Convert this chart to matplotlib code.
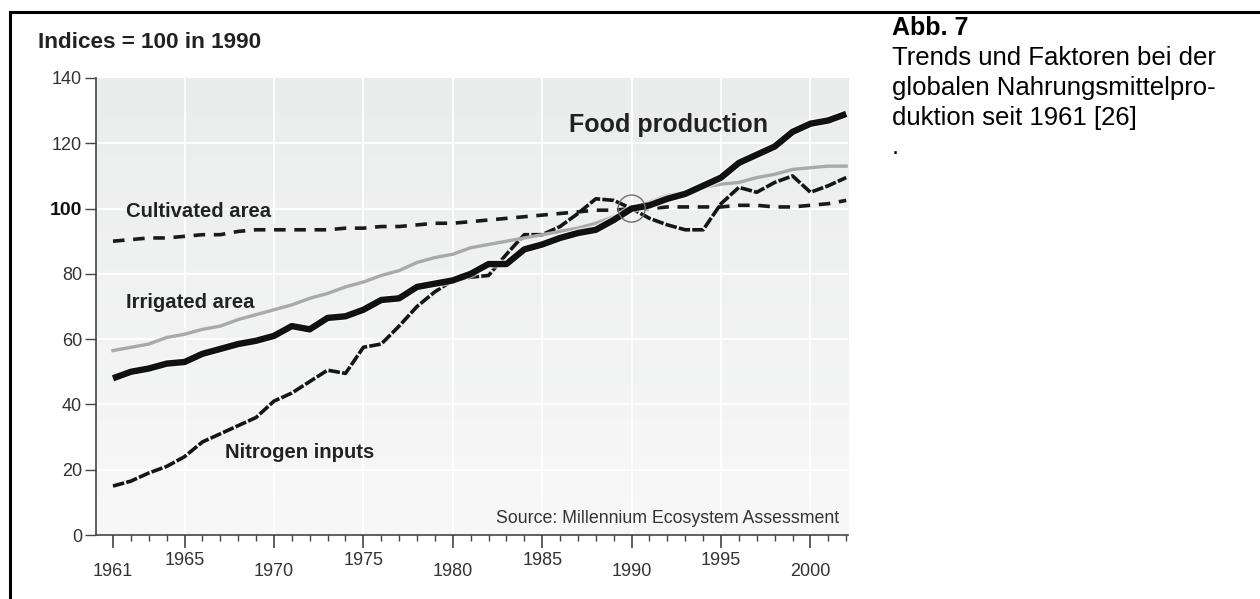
import numpy as np
import matplotlib
matplotlib.use("Agg")
import matplotlib.pyplot as plt
from matplotlib.lines import Line2D
import matplotlib.patheffects as pe

plt.rcParams['font.family'] = ['Liberation Sans', 'DejaVu Sans']

years = np.arange(1961, 2003)

food_production = [48, 50, 51, 52.5, 53, 55.5, 57, 58.5, 59.5, 61,
                   64, 63, 66.5, 67, 69, 72, 72.5, 76, 77, 78,
                   80, 83, 83, 87.5, 89, 91, 92.5, 93.5, 96.5, 100,
                   101, 103, 104.5, 107, 109.5, 114, 116.5, 119, 123.5, 126,
                   127, 129]

irrigated_area = [56.5, 57.5, 58.5, 60.5, 61.5, 63, 64, 66, 67.5, 69,
                  70.5, 72.5, 74, 76, 77.5, 79.5, 81, 83.5, 85, 86,
                  88, 89, 90, 91, 92, 93, 94, 95.5, 97.5, 100,
                  102, 104, 105, 106.5, 107.5, 108, 109.5, 110.5, 112, 112.5,
                  113, 113]

cultivated_area = [90, 90.5, 91, 91, 91.5, 92, 92, 93, 93.5, 93.5,
                   93.5, 93.5, 93.5, 94, 94, 94.5, 94.5, 95, 95.5, 95.5,
                   96, 96.5, 97, 97.5, 98, 98.5, 99, 99.5, 99.5, 100,
                   100, 100.5, 100.5, 100.5, 100.5, 101, 101, 100.5, 100.5, 101,
                   101.5, 102.5]

nitrogen_inputs = [15, 16.5, 19, 21, 24, 28.5, 31, 33.5, 36, 41,
                   43.5, 47, 50.5, 49.5, 57.5, 58.5, 64, 70, 74.5, 78,
                   79, 79.5, 86, 92, 92, 94.5, 98.5, 103, 102.5, 100,
                   97, 95, 93.5, 93.5, 101.5, 106.5, 105, 108, 110, 105,
                   107, 109.5]

y_ticks = [0, 20, 40, 60, 80, 100, 120, 140]
x_major = [1961, 1965, 1970, 1975, 1980, 1985, 1990, 1995, 2000]

fig = plt.figure(figsize=(12.6, 5.99), dpi=100)
ax = fig.add_axes([96 / 1260, 1 - 535 / 599, (848 - 96) / 1260, (535 - 78) / 599])

# background gradient, darker at top
grad = np.linspace(0, 1, 256).reshape(-1, 1)
ax.imshow(grad, cmap=matplotlib.colors.LinearSegmentedColormap.from_list(
    'bg', ['#ebecec', '#f7f8f7']), aspect='auto', extent=(0, 1, 0, 1),
    transform=ax.transAxes, zorder=0)

ax.set_xlim(1960.05, 2002.1)
ax.set_ylim(0, 140)

for yr in range(1965, 2001, 5):
    ax.axvline(yr, color='white', lw=1.3, zorder=1)
for v in y_ticks[1:-1]:
    ax.axhline(v, color='white', lw=1.3, zorder=1)

halo = [pe.Stroke(linewidth=6.5, foreground='white', alpha=0.6), pe.Normal()]
ax.plot(years, cultivated_area, color='#1a1a1a', lw=2.6, dashes=(3.2, 2.4),
        zorder=3)
ax.plot(years, nitrogen_inputs, color='#151515', lw=2.6, dashes=(3.2, 0.6),
        zorder=4)
ax.plot(years, irrigated_area, color='#a9a9a9', lw=2.4, zorder=5)
ax.plot(years, food_production, color='#111111', lw=4.6, zorder=6,
        path_effects=halo, solid_capstyle='butt')

ax.scatter([1990], [100], s=380, facecolor='none', edgecolor='#707070',
           lw=1.0, zorder=7)

# axes styling
for side in ['top', 'right']:
    ax.spines[side].set_visible(False)
for side in ['left', 'bottom']:
    ax.spines[side].set_color('#444444')
    ax.spines[side].set_linewidth(1.2)

ax.set_yticks(y_ticks)
ax.set_yticklabels([str(v) for v in y_ticks])
ax.tick_params(axis='y', direction='out', length=8, width=1, color='#444444',
               labelsize=13, labelcolor='#333333', pad=2)
for lbl in ax.get_yticklabels():
    if lbl.get_text() == '100':
        lbl.set_fontweight('bold')
        lbl.set_fontsize(14)
        lbl.set_color('#111111')

ax.set_xticks(x_major)
ax.set_xticklabels([str(v) for v in x_major])
ax.set_xticks(years, minor=True)
ax.tick_params(axis='x', which='major', direction='out', length=9, width=1.2,
               color='#444444', labelsize=13, labelcolor='#333333')
ax.tick_params(axis='x', which='minor', direction='out', length=4.5, width=1,
               color='#444444')
for i, tick in enumerate(ax.xaxis.get_major_ticks()):
    tick.set_pad(11 if i % 2 == 0 else 3)

# series labels
ax.text(1961.7, 99, 'Cultivated area', fontsize=14.6, fontweight='bold',
        color='#222222', va='center', ha='left', zorder=8)
ax.text(1961.7, 71.1, 'Irrigated area', fontsize=14.6, fontweight='bold',
        color='#222222', va='center', ha='left', zorder=8)
ax.text(1967.25, 25.4, 'Nitrogen inputs', fontsize=14.6, fontweight='bold',
        color='#222222', va='center', ha='left', zorder=8)
ax.text(1986.5, 125.6, 'Food production', fontsize=18, fontweight='bold',
        color='#222222', va='center', ha='left', zorder=8)
ax.text(2001.6, 5.2, 'Source: Millennium Ecosystem Assessment', fontsize=12.8,
        color='#333333', va='center', ha='right', zorder=8)

fig.text(38 / 1260, 1 - 42 / 599, 'Indices = 100 in 1990', fontsize=16.2,
         fontweight='bold', color='#222222', va='center', ha='left')

# caption on the right
cap_x = 892 / 1260
fig.text(cap_x, 1 - 35 / 599, 'Abb. 7', fontsize=18, fontweight='bold',
         va='baseline', ha='left')
caption = ['Trends und Faktoren bei der', 'globalen Nahrungsmittelpro-',
           'duktion seit 1961 [26]', '.']
for k, line in enumerate(caption):
    fig.text(cap_x, 1 - (65 + 29.8 * k) / 599, line, fontsize=18.5,
             va='baseline', ha='left')

# frame lines (top and left)
fig.add_artist(Line2D([10 / 1260, 1], [1 - 12 / 599] * 2, color='black',
                      lw=2.2, transform=fig.transFigure))
fig.add_artist(Line2D([10 / 1260] * 2, [0, 1 - 12 / 599], color='black',
                      lw=2.2, transform=fig.transFigure))

fig.savefig('out.png', dpi=100)
